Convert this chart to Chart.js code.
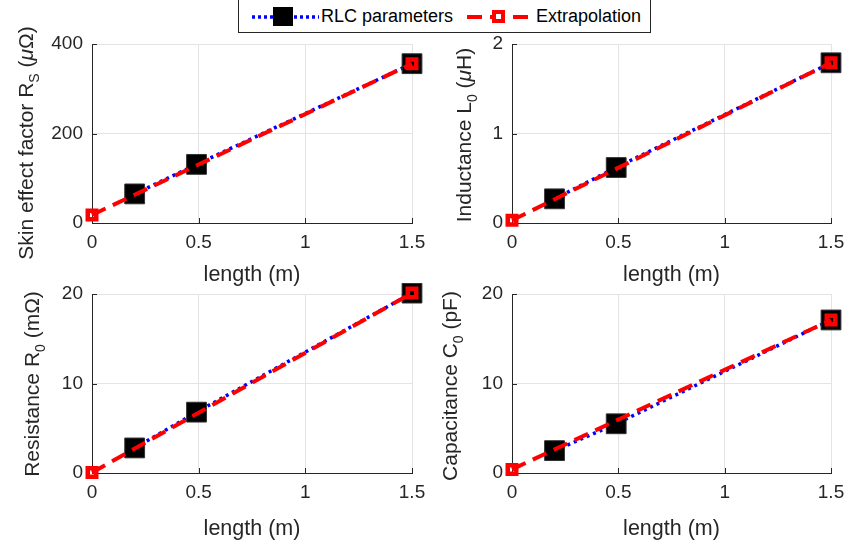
<!DOCTYPE html>
<html>
<head>
<meta charset="utf-8">
<script src="https://cdn.jsdelivr.net/npm/chart.js@4.4.0/dist/chart.umd.min.js"></script>
<style>
  body { margin: 0; background: #fff; }
  #wrap { position: relative; width: 846px; height: 547px; overflow: hidden; font-family: "Liberation Sans", Arial, sans-serif; }
  .panel { position: absolute; }
  #legend { position: absolute; left: 238px; top: -1px; width: 411px; height: 32px; border: 1px solid #262626; background: #fff; z-index: 5; }
  #legend svg { position: absolute; left: 0; top: 0; }
  #legend span { position: absolute; top: 6px; font-size: 18px; line-height: 20px; color: #000; white-space: nowrap; }
</style>
</head>
<body>
<div id="wrap">
  <div id="legend">
    <svg width="411" height="32">
      <line x1="13" y1="17" x2="80" y2="17" stroke="#0000ff" stroke-width="3.5" stroke-dasharray="3,3"/>
      <rect x="34" y="7" width="20" height="19" fill="#000"/>
      <line x1="228" y1="17" x2="292" y2="17" stroke="#ff0000" stroke-width="4" stroke-dasharray="15,8"/>
      <rect x="255" y="12" width="9" height="9" fill="#fff" stroke="#ff0000" stroke-width="4"/>
    </svg>
    <span style="left:82px">RLC parameters</span>
    <span style="left:297px">Extrapolation</span>
  </div>
  <canvas class="panel" id="c1" width="430" height="292" style="left:0;top:0"></canvas>
  <canvas class="panel" id="c2" width="416" height="292" style="left:430px;top:0"></canvas>
  <canvas class="panel" id="c3" width="430" height="264" style="left:0;top:283px"></canvas>
  <canvas class="panel" id="c4" width="416" height="264" style="left:430px;top:283px"></canvas>
</div>
<script>
// measured lengths (m)
const lengths = [0.2, 0.49, 1.5];
const extrapLengths = [0, 1.5];
const xTicks = [0, 0.5, 1, 1.5];

// skin effect factor Rs (uOhm)
const skinRLC = [65, 131, 356];
const skinExtrap = [18, 356];
const skinTicks = [0, 200, 400];

// inductance L0 (uH)
const inductRLC = [0.27, 0.62, 1.79];
const inductExtrap = [0.03, 1.79];
const inductTicks = [0, 1, 2];

// resistance R0 (mOhm)
const resistRLC = [2.8, 6.8, 20.1];
const resistExtrap = [0.05, 20.1];
const resistTicks = [0, 10, 20];

// capacitance C0 (pF)
const capRLC = [2.5, 5.5, 17.1];
const capExtrap = [0.4, 17.1];
const capTicks = [0, 10, 20];

const TXT = '#262626';
const FONT = '"Liberation Sans", Arial, sans-serif';
const Y_W = 60, X_H = 40;

function pts(xs, ys) {
  return xs.map((x, i) => ({x: x, y: ys[i]}));
}

// draws the inward ticks and the axis titles (with subscripts)
const panelDecor = {
  id: 'panelDecor',
  beforeDatasetsDraw(chart) {
    const ctx = chart.ctx, a = chart.chartArea;
    const xs = chart.scales.x, ys = chart.scales.y;
    ctx.save();
    ctx.strokeStyle = TXT;
    ctx.lineWidth = 1;
    ctx.beginPath();
    xs.ticks.forEach(t => {
      const px = Math.round(xs.getPixelForValue(t.value)) + 0.5;
      ctx.moveTo(px, a.bottom);
      ctx.lineTo(px, a.bottom - 5);
    });
    ys.ticks.forEach(t => {
      const py = Math.round(ys.getPixelForValue(t.value)) + 0.5;
      ctx.moveTo(a.left, py);
      ctx.lineTo(a.left + 5, py);
    });
    ctx.stroke();
    ctx.restore();
  },
  afterDraw(chart, args, o) {
    const ctx = chart.ctx, a = chart.chartArea;
    ctx.save();
    ctx.fillStyle = TXT;
    // x title
    ctx.font = '21.5px ' + FONT;
    ctx.textAlign = 'center';
    ctx.textBaseline = 'alphabetic';
    ctx.fillText('length (m)', (a.left + a.right) / 2, a.bottom + o.xt);
    // y title
    const parts = o.parts;
    const fontOf = p => (p.sub ? '14px ' : (p.it ? 'italic 21px ' : '21px ')) + FONT;
    let total = 0;
    parts.forEach(p => { ctx.font = fontOf(p); total += ctx.measureText(p.t).width; });
    ctx.translate(o.bx, o.cy);
    ctx.rotate(-Math.PI / 2);
    ctx.textAlign = 'left';
    let x = -total / 2;
    parts.forEach(p => {
      ctx.font = fontOf(p);
      ctx.fillText(p.t, x, p.sub ? 6 : 0);
      x += ctx.measureText(p.t).width;
    });
    ctx.restore();
  }
};

function makePanel(id, rlc, extrap, yTicks, area, title) {
  const cv = document.getElementById(id);
  const W = cv.width, H = cv.height;
  return new Chart(cv, {
    type: 'line',
    data: {
      datasets: [
        {
          label: 'Extrapolation',
          data: pts(extrapLengths, extrap),
          borderColor: '#ff0000',
          borderWidth: 4,
          borderDash: [15, 8],
          pointStyle: 'rect',
          pointRadius: 6,
          pointBorderWidth: 4.5,
          pointBorderColor: '#ff0000',
          pointBackgroundColor: 'rgba(0,0,0,0)',
          clip: false,
          order: 0
        },
        {
          label: 'RLC parameters',
          data: pts(lengths, rlc),
          borderColor: '#0000ff',
          borderWidth: 3.5,
          borderDash: [3, 4],
          pointStyle: 'rect',
          pointRadius: 14,
          pointBorderWidth: 1,
          pointBorderColor: '#333',
          pointBackgroundColor: '#000',
          clip: false,
          order: 1
        }
      ]
    },
    options: {
      responsive: false,
      animation: false,
      events: [],
      layout: {
        autoPadding: false,
        padding: {
          left: area.l - Y_W,
          right: W - area.r,
          top: area.t,
          bottom: H - area.b - X_H
        }
      },
      scales: {
        x: {
          type: 'linear',
          min: 0,
          max: 1.5,
          afterBuildTicks: s => { s.ticks = xTicks.map(v => ({value: v})); },
          afterFit: s => { s.height = X_H; s.paddingLeft = 0; s.paddingRight = 0; s.paddingTop = 0; s.paddingBottom = 0; },
          ticks: { color: TXT, font: { family: FONT, size: 19 }, padding: 8, maxRotation: 0,
                   callback: v => String(v) },
          grid: { color: '#e4e4e4', drawTicks: false },
          border: { color: TXT, width: 1 }
        },
        y: {
          min: yTicks[0],
          max: yTicks[yTicks.length - 1],
          afterBuildTicks: s => { s.ticks = yTicks.map(v => ({value: v})); },
          afterFit: s => { s.width = Y_W; s.paddingLeft = 0; s.paddingRight = 0; s.paddingTop = 0; s.paddingBottom = 0; },
          ticks: { color: TXT, font: { family: FONT, size: 19 }, padding: 9,
                   callback: v => String(v) },
          grid: { color: '#e4e4e4', drawTicks: false },
          border: { color: TXT, width: 1 }
        }
      },
      plugins: {
        legend: { display: false },
        tooltip: { enabled: false },
        panelDecor: title
      }
    },
    plugins: [panelDecor]
  });
}

makePanel('c1', skinRLC, skinExtrap, skinTicks,
  {l: 92, r: 412, t: 44, b: 223},
  {bx: 33, cy: 143, xt: 58, parts: [{t: 'Skin effect factor R'}, {t: 'S', sub: true}, {t: ' ('}, {t: 'μ', it: true}, {t: 'Ω)'}]});

makePanel('c2', inductRLC, inductExtrap, inductTicks,
  {l: 82, r: 401, t: 44, b: 223},
  {bx: 41, cy: 135, xt: 58, parts: [{t: 'Inductance L'}, {t: '0', sub: true}, {t: ' ('}, {t: 'μ', it: true}, {t: 'H)'}]});

makePanel('c3', resistRLC, resistExtrap, resistTicks,
  {l: 92, r: 412, t: 11, b: 190},
  {bx: 39, cy: 101, xt: 62, parts: [{t: 'Resistance R'}, {t: '0', sub: true}, {t: ' (mΩ)'}]});

makePanel('c4', capRLC, capExtrap, capTicks,
  {l: 82, r: 401, t: 11, b: 190},
  {bx: 27, cy: 103, xt: 62, parts: [{t: 'Capacitance C'}, {t: '0', sub: true}, {t: ' (pF)'}]});
</script>
</body>
</html>
